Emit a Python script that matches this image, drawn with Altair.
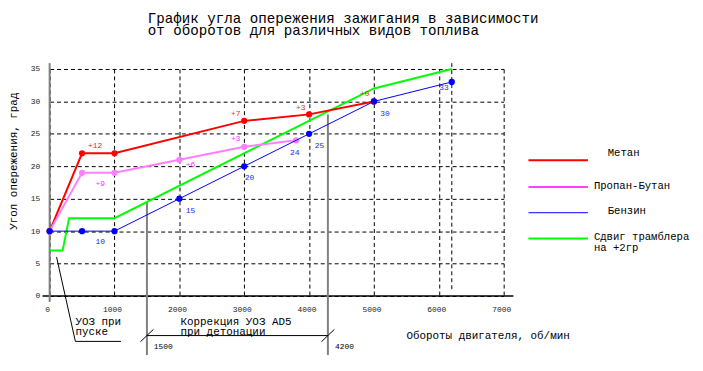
import altair as alt
import pandas as pd

FONT = "Liberation Mono"

# ---------------- data ----------------
metan_rpm = [0, 500, 1000, 3000, 4000, 5000]
metan_uoz = [10, 22, 22, 27, 28, 30]
propan_rpm = [0, 500, 1000, 2000, 3000, 3800]
propan_uoz = [10, 19, 19, 21, 23, 24]
benzin_rpm = [0, 500, 1000, 2000, 3000, 4000, 5000, 6200]
benzin_uoz = [10, 10, 10, 15, 20, 25, 30, 33]
shift_rpm = [0, 200, 300, 1000, 5000, 6200]
shift_uoz = [7, 7, 12, 12, 32, 35]

metan_lbl = ["+12", "+7", "+3", "+0"]
metan_lbl_x = [700, 2870, 3870, 4860]
metan_lbl_y = [23.2, 28.1, 29.0, 31.2]
propan_lbl = ["+9", "+6", "+3"]
propan_lbl_x = [780, 2170, 2870]
propan_lbl_y = [17.3, 20.2, 24.2]
benzin_lbl = ["10", "15", "20", "24", "25", "30", "33"]
benzin_lbl_x = [780, 2170, 3080, 3780, 4160, 5170, 6080]
benzin_lbl_y = [8.3, 13.1, 18.2, 22.0, 23.2, 28.1, 32.1]

x_ticks = [0, 1000, 2000, 3000, 4000, 5000, 6000, 7000]
y_ticks = [0, 5, 10, 15, 20, 25, 30, 35]

legend_names = ["Метан", "Пропан-Бутан", "Бензин", "Сдвиг трамблера"]

title_lines = ["График угла опережения зажигания в зависимости",
               "от оборотов для различных видов топлива"]
y_title = "Угол опережения, град"
x_title = "Обороты двигателя, об/мин"

# annotation markers (rpm where the detonation-correction zone starts/ends)
zone_x = [1500, 4290]
zone_top = [14.5, 28.0]
zone_lbl = ["1500", "4200"]

# ---------------- scales / axes ----------------
xs = alt.Scale(domain=[0, 7000], nice=False, zero=False)
ys = alt.Scale(domain=[0, 35], nice=False, zero=False)

x_axis = alt.Axis(
    values=x_ticks, format="d", grid=True, gridDash=[4, 3], gridColor="black",
    gridOpacity=1, gridWidth=1, domain=False, ticks=False, labelFont=FONT,
    labelFontSize=8, labelColor="#222", labelPadding=10, labelOffset=-2.5, title=None,
    labelFlush=False, labelOverlap=False)
y_axis = alt.Axis(
    values=y_ticks, format="d", grid=True, gridDash=[4, 3], gridColor="black",
    gridOpacity=1, gridWidth=1, domain=False, ticks=False, labelFont=FONT,
    labelFontSize=8, labelColor="#222", labelPadding=10, title=None,
    labelFlush=False, labelOverlap=False)

def X(f):
    return alt.X(f, type="quantitative", scale=xs, axis=x_axis)

def Y(f):
    return alt.Y(f, type="quantitative", scale=ys, axis=y_axis)

layers = []

# extra dashed gridline at 6200
g62 = pd.DataFrame({"x": [benzin_rpm[-1]], "y": [35.9], "y2": [0.8]})
layers.append(alt.Chart(g62).mark_rule(color="black", strokeDash=[4, 3], strokeWidth=1)
              .encode(x=X("x"), y=Y("y"), y2=alt.Y2("y2")))

# axis lines
xa = pd.DataFrame({"x": [-110], "x2": [7150], "y": [0]})
layers.append(alt.Chart(xa).mark_rule(color="black", strokeWidth=1.5)
              .encode(x=X("x"), x2=alt.X2("x2"), y=Y("y")))
ya = pd.DataFrame({"x": [0], "y": [-0.9], "y2": [35.9]})
layers.append(alt.Chart(ya).mark_rule(color="#808080", strokeWidth=2)
              .encode(x=X("x"), y=Y("y"), y2=alt.Y2("y2")))

# detonation zone vertical lines
zdf = pd.DataFrame({"x": zone_x, "y": zone_top, "y2": [-9.2, -9.2]})
layers.append(alt.Chart(zdf).mark_rule(color="#808080", strokeWidth=2)
              .encode(x=X("x"), y=Y("y"), y2=alt.Y2("y2")))

# series
def series(rpm, uoz, color, width, points):
    df = pd.DataFrame({"x": rpm, "y": uoz})
    ch = [alt.Chart(df).mark_line(color=color, strokeWidth=width).encode(x=X("x"), y=Y("y"))]
    if points:
        ch.append(alt.Chart(df).mark_circle(color=color, size=40, opacity=1)
                  .encode(x=X("x"), y=Y("y")))
    return ch

layers += series(shift_rpm, shift_uoz, "#00ff00", 2, False)
layers += series(metan_rpm, metan_uoz, "#ff0000", 2, True)
layers += series(propan_rpm, propan_uoz, "#ff80ff", 2, True)
layers += series(benzin_rpm, benzin_uoz, "#0000ff", 1, True)

# series value labels
def labels(txt, xx, yy, color):
    df = pd.DataFrame({"x": xx, "y": yy, "t": txt})
    return alt.Chart(df).mark_text(font=FONT, fontSize=8, color=color, align="center",
                                   baseline="middle").encode(x=X("x"), y=Y("y"), text="t:N")

layers.append(labels(metan_lbl, metan_lbl_x, metan_lbl_y, "#ff2020"))
layers.append(labels(propan_lbl, propan_lbl_x, propan_lbl_y, "#ff33ff"))
layers.append(labels(benzin_lbl, benzin_lbl_x, benzin_lbl_y, "#2222ff"))

# leader line for "УОЗ при пуске"
lead = pd.DataFrame({"x": [107, 397, 1100], "y": [6.0, -7.0, -7.0], "o": [0, 1, 2]})
layers.append(alt.Chart(lead).mark_line(color="black", strokeWidth=1)
              .encode(x=X("x"), y=Y("y"), order="o:Q"))

# bracket for the correction zone
br = pd.DataFrame({"x": [zone_x[0]], "x2": [zone_x[1]], "y": [-6.1]})
layers.append(alt.Chart(br).mark_rule(color="black", strokeWidth=1)
              .encode(x=X("x"), x2=alt.X2("x2"), y=Y("y")))
sl = pd.DataFrame({"x": [zone_x[0] - 100, zone_x[1] - 100], "x2": [zone_x[0] + 100, zone_x[1] + 100],
                   "y": [-7.05, -7.05], "y2": [-5.15, -5.15]})
layers.append(alt.Chart(sl).mark_rule(color="black", strokeWidth=1)
              .encode(x=X("x"), x2=alt.X2("x2"), y=Y("y"), y2=alt.Y2("y2")))

# annotation texts
ann = pd.DataFrame({
    "x": [397, 397, 2017, 2017, 5500],
    "y": [-3.97, -5.5, -3.97, -5.5, -6.1],
    "t": ["УОЗ при", "пуске", "Коррекция УОЗ AD5", "при детонации", x_title],
})
layers.append(alt.Chart(ann).mark_text(font=FONT, fontSize=11, color="black", align="left",
                                       baseline="middle").encode(x=X("x"), y=Y("y"), text="t:N"))
zl = pd.DataFrame({"x": [zone_x[0] + 105, zone_x[1] + 110], "y": [-7.8, -7.8], "t": zone_lbl})
layers.append(alt.Chart(zl).mark_text(font=FONT, fontSize=8, color="black", align="left",
                                      baseline="middle").encode(x=X("x"), y=Y("y"), text="t:N"))

# title
for ln, yy in zip(title_lines, [-50, -38]):
    layers.append(alt.Chart(pd.DataFrame({"t": [ln]})).mark_text(
        font=FONT, fontSize=14.3, color="black", align="left", baseline="middle")
        .encode(x=alt.value(99), y=alt.value(yy), text="t:N"))

# y title
layers.append(alt.Chart(pd.DataFrame({"t": [y_title]})).mark_text(
    font=FONT, fontSize=11, color="black", angle=270, align="center", baseline="middle")
    .encode(x=alt.value(-36), y=alt.value(93), text="t:N"))

# legend (drawn manually)
leg_colors = ["#ff0000", "#ff40ff", "#0000ff", "#00ff00"]
leg_widths = [2, 2, 1, 2]
leg_line_y = [92, 119, 145, 171]
leg_text = [(legend_names[0], 563, 85), (legend_names[1], 549, 118),
            (legend_names[2], 563, 143), (legend_names[3], 549, 170), ("на +2гр", 549, 181)]
for c, w, yy in zip(leg_colors, leg_widths, leg_line_y):
    layers.append(alt.Chart(pd.DataFrame({"a": [0]})).mark_rule(color=c, strokeWidth=w)
                  .encode(x=alt.value(483), x2=alt.value(543), y=alt.value(yy)))
for t, xx, yy in leg_text:
    layers.append(alt.Chart(pd.DataFrame({"t": [t]})).mark_text(
        font=FONT, fontSize=10.7, color="black", align="left", baseline="middle")
        .encode(x=alt.value(xx), y=alt.value(yy), text="t:N"))

chart = alt.layer(*layers).properties(
    width=458, height=229,
    autosize=alt.AutoSizeParams(type="none"),
    padding={"left": 42, "top": 60, "right": 193, "bottom": 58},
    background="white",
).configure_view(stroke=None)

chart.save("out.html", embed_options={"renderer": "svg", "actions": False})
